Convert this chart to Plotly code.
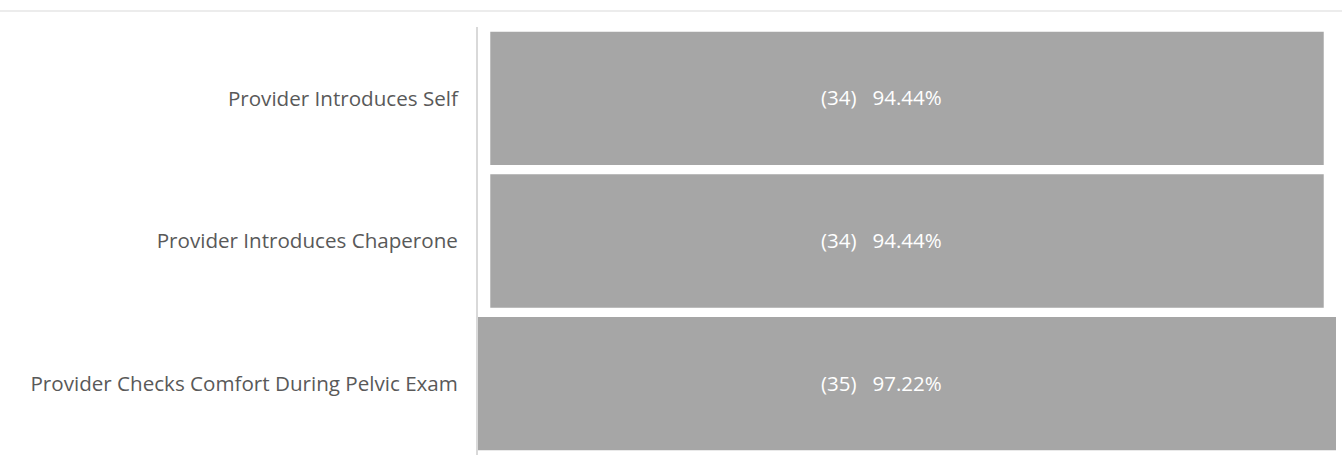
import plotly.graph_objects as go

categories = ["Provider Introduces Self", "Provider Introduces Chaperone",
              "Provider Checks Comfort During Pelvic Exam"]
percents = [94.44, 94.44, 97.22]
counts = [34, 34, 35]

labels = [f"({c})\u00a0\u00a0\u00a0{p:.2f}%" for c, p in zip(counts, percents)]

fig = go.Figure(go.Funnel(
    y=categories,
    x=percents,
    orientation="h",
    marker=dict(color="#a6a6a6", line=dict(width=0)),
    connector=dict(visible=False),
    textinfo="none",
    hoverinfo="y+x",
))

for cat, lab in zip(categories, labels):
    fig.add_annotation(x=0, y=cat, text=lab, showarrow=False, xshift=-26, yshift=1,
                       font=dict(family="Open Sans", size=20.5, color="white"))

half = max(percents) / 2
fig.update_layout(
    width=1342, height=464,
    margin=dict(l=478, r=6, t=27, b=9),
    paper_bgcolor="white", plot_bgcolor="white",
    showlegend=False,
    funnelgap=0.066,
    xaxis=dict(range=[-half, half], visible=False, fixedrange=True),
    yaxis=dict(showline=True, linecolor="#d9d9d9", linewidth=2,
               showgrid=False, ticks="", ticklabelstandoff=14,
               tickfont=dict(family="Open Sans", size=20.6, color="#595959")),
    shapes=[dict(type="line", xref="paper", yref="paper",
                 x0=-478 / 858, x1=1 + 6 / 858, y0=1 + 16 / 428, y1=1 + 16 / 428,
                 line=dict(color="#d9d9d9", width=1))],
)

fig.write_html("out.html")
